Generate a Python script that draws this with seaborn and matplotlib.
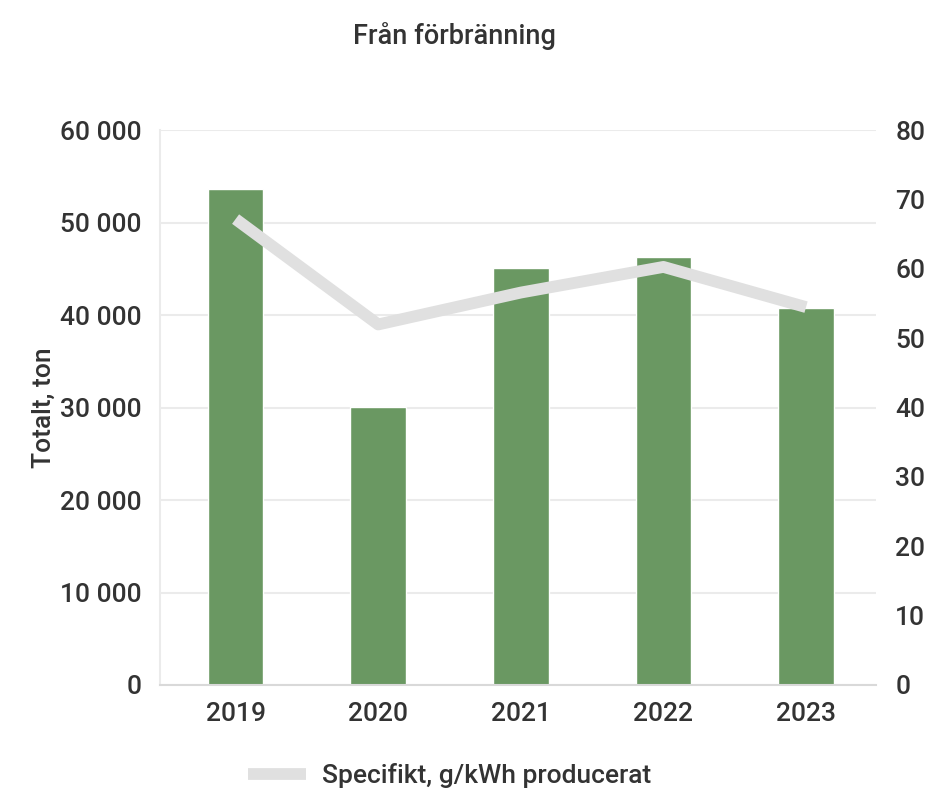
import matplotlib
matplotlib.use("Agg")
import matplotlib.pyplot as plt
import matplotlib.ticker as mticker
import seaborn as sns
import pandas as pd

# data
years = ["2019", "2020", "2021", "2022", "2023"]
totalt_ton = [53700, 30100, 45100, 46300, 40800]
specifikt = [67.2, 52.0, 56.6, 60.3, 54.5]

df = pd.DataFrame({"year": years, "totalt": totalt_ton, "spec": specifikt})

sns.set_style("white")
plt.rcParams['font.family'] = ['Roboto', 'DejaVu Sans']
plt.rcParams['font.weight'] = 'medium'
text_color = '#333333'
fs = 19

fig = plt.figure(figsize=(9.49, 7.90), dpi=100)
ax = fig.add_axes([0.1686, 0.133, 0.7544, 0.702])

sns.barplot(data=df, x="year", y="totalt", color="#6a9862", width=0.39,
            saturation=1, ax=ax)
ax.set_ylim(0, 60000)
ax.yaxis.set_major_locator(mticker.MultipleLocator(10000))
ax.yaxis.set_major_formatter(mticker.FuncFormatter(
    lambda v, p: f"{int(v):,}".replace(",", " ")))
ax.grid(axis='y', color='#ebebeb', linewidth=1.5)
ax.set_axisbelow(True)
ax.set_xlabel("")
ax.set_ylabel("Totalt, ton", fontsize=fs, color=text_color, fontweight='medium')
ax.yaxis.set_label_coords(-0.145, 0.5)
ax.tick_params(axis='both', length=0, labelsize=fs, labelcolor=text_color)
ax.tick_params(axis='y', pad=13)
ax.tick_params(axis='x', pad=12)
for s in ['top', 'right']:
    ax.spines[s].set_visible(False)
ax.spines['left'].set_color('#ebebeb')
ax.spines['bottom'].set_color('#d9d9d9')
ax.spines['left'].set_linewidth(1.5)
ax.spines['bottom'].set_linewidth(1.5)

ax2 = ax.twinx()
sns.lineplot(data=df, x="year", y="spec", color="#e0e0e0", linewidth=8.5,
             solid_capstyle='butt', ax=ax2, label="Specifikt, g/kWh producerat",
             legend=False)
ax2.set_ylim(0, 80)
ax2.yaxis.set_major_locator(mticker.MultipleLocator(10))
ax2.set_ylabel("")
ax2.tick_params(axis='y', length=0, labelsize=fs, labelcolor=text_color, pad=14)
for s in ax2.spines.values():
    s.set_visible(False)
ax.set_xlim(-0.53, 4.49)

fig.text(0.479, 0.955, "Från förbränning", ha='center', va='center',
         fontsize=19.5, color=text_color)

handles, labels = ax2.get_legend_handles_labels()
fig.legend(handles, labels, loc='center', bbox_to_anchor=(0.474, 0.018),
           frameon=False, fontsize=fs, labelcolor=text_color,
           handlelength=2.2, handletextpad=0.6)

fig.savefig("out.png", dpi=100)
